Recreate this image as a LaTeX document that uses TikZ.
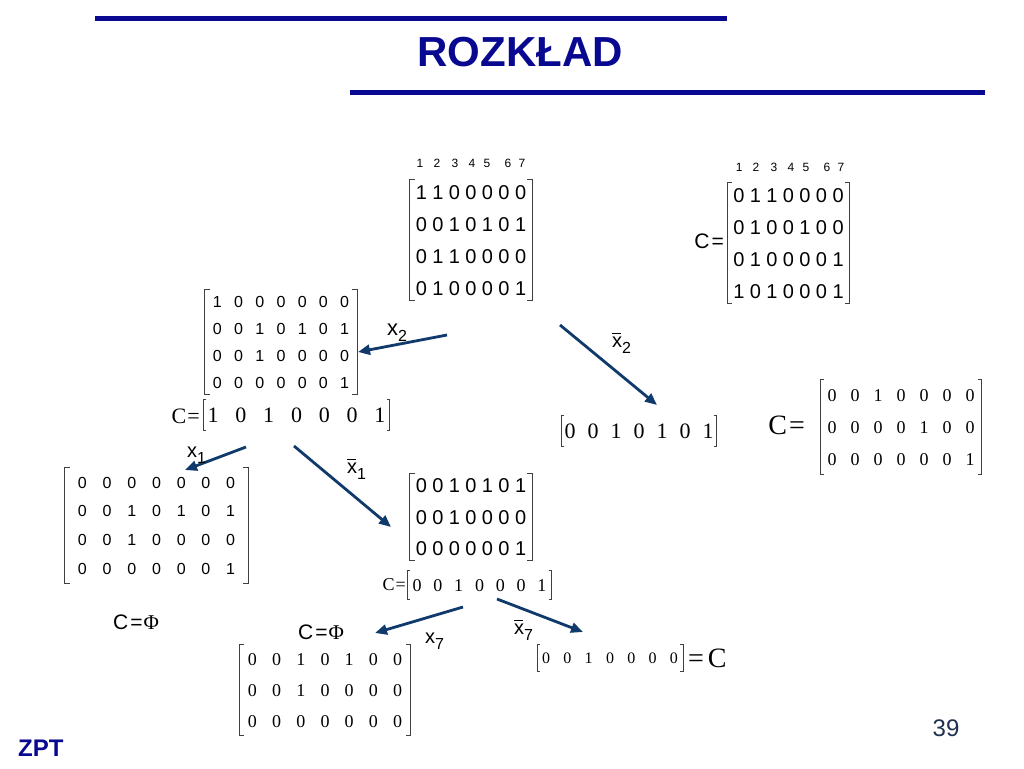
\documentclass[tikz,border=0pt]{standalone}
\usepackage{fontspec}
\setmainfont{Liberation Serif}
\setsansfont{Liberation Sans}
\newfontfamily\arial{Liberation Sans}
\newfontfamily\tms{Liberation Serif}
\usetikzlibrary{matrix,arrows.meta}
\newcommand\fs[1]{\fontsize{#1}{#1}\selectfont}
\newcommand\hdr{1\hspace{10.3pt}2\hspace{11.3pt}3\hspace{10.3pt}4\hspace{8.3pt}5\hspace{14.3pt}6\hspace{7.3pt}7}
\newcommand\xsub[1]{x\raisebox{-6pt}{\fs{16}#1}}
\newcommand\xbarsub[1]{\rlap{\raisebox{13pt}{\rule{9pt}{1pt}}}x\raisebox{-6pt}{\fs{16}#1}}
\newcommand\mybrk[2][5pt]{%
  \draw[brkline] ([xshift=#1]#2.north west) -- (#2.north west) -- (#2.south west) -- ([xshift=#1]#2.south west);
  \draw[brkline] ([xshift=-#1]#2.north east) -- (#2.north east) -- (#2.south east) -- ([xshift=-#1]#2.south east);}
\definecolor{titleblue}{RGB}{8,8,145}
\definecolor{arrowblue}{RGB}{16,58,108}
\definecolor{numgray}{RGB}{30,50,80}
\begin{document}
\begin{tikzpicture}[x=1pt,y=-1pt,
  brkline/.style={line width=0.8pt, black!75},
  mat/.style={matrix of nodes, nodes={inner sep=0pt, text depth=0pt, anchor=base}},
  sansbig/.style={nodes={font=\arial\fs{20}, text height=14pt}},
  sansmid/.style={nodes={font=\arial\fs{16}, text height=11.5pt}},
  tmsbig/.style={nodes={font=\tms\fs{22}, text height=15pt}},
  tmsmid/.style={nodes={font=\tms\fs{18}, text height=12.2pt}},
  tmssmall/.style={nodes={font=\tms\fs{16}, text height=10.8pt}},
  hdrnode/.style={font=\arial\fs{12}, inner sep=0pt},
  lbl/.style={font=\arial\fs{20}, inner sep=0pt, anchor=base west},
  conn/.style={arrowblue, line width=2.8pt, -{Triangle[length=12pt,width=10pt]}},
  ceq/.style={font=\arial\fs{21}, inner sep=0pt}]
\useasboundingbox (0,0) rectangle (1024,768);
\fill[white] (0,0) rectangle (1024,768);

% title and rules
\draw[titleblue, line width=5pt] (95,19) -- (727,19);
\draw[titleblue, line width=5pt] (350,92) -- (985,92);
\node[font=\arial\bfseries\fs{42}, text=titleblue, inner sep=0pt] (title) at (520,52) {ROZKŁAD};
\node[font=\arial\bfseries\fs{24}, text=titleblue, inner sep=0pt, anchor=west] (zpt) at (18,748) {ZPT};
\node[font=\arial\fs{24}, text=numgray, inner sep=0pt] (pnum) at (946,728) {39};

% top matrix
\node[hdrnode] (hA) at (471,163) {\hdr};
\matrix (A) [mat, sansbig, column sep=5.4pt, row sep=18pt, inner xsep=6pt, inner ysep=5pt] at (471,240) {
1 & 1 & 0 & 0 & 0 & 0 & 0 \\
0 & 0 & 1 & 0 & 1 & 0 & 1 \\
0 & 1 & 1 & 0 & 0 & 0 & 0 \\
0 & 1 & 0 & 0 & 0 & 0 & 1 \\
};
\mybrk{A}

% top right C matrix
\node[hdrnode] (hC) at (790,167) {\hdr};
\matrix (CA) [mat, sansbig, column sep=5.4pt, row sep=18pt, inner xsep=6pt, inner ysep=5pt] at (788.5,243) {
0 & 1 & 1 & 0 & 0 & 0 & 0 \\
0 & 1 & 0 & 0 & 1 & 0 & 0 \\
0 & 1 & 0 & 0 & 0 & 0 & 1 \\
1 & 0 & 1 & 0 & 0 & 0 & 1 \\
};
\mybrk{CA}
\node[ceq, anchor=east] (CAeq) at (724,241) {C\hspace{2pt}=};

% matrix B (after x2)
\matrix (B) [mat, sansmid, column sep=12.3pt, row sep=15.5pt, inner xsep=8pt, inner ysep=6pt] at (281,342) {
1 & 0 & 0 & 0 & 0 & 0 & 0 \\
0 & 0 & 1 & 0 & 1 & 0 & 1 \\
0 & 0 & 1 & 0 & 0 & 0 & 0 \\
0 & 0 & 0 & 0 & 0 & 0 & 1 \\
};
\mybrk{B}
\matrix (VB) [mat, tmsbig, column sep=16.8pt, inner xsep=4pt, inner ysep=7.5pt] at (296.5,415) {
1 & 0 & 1 & 0 & 0 & 0 & 1 \\
};
\mybrk[3pt]{VB}
\node[font=\tms\fs{22}, inner sep=0pt, anchor=east] (VBeq) at (200,416) {C\hspace{1pt}=};

% vector after x2 bar
\matrix (V2) [mat, tmsbig, column sep=12pt, inner xsep=3pt, inner ysep=7.5pt] at (639,431) {
0 & 0 & 1 & 0 & 1 & 0 & 1 \\
};
\mybrk[3pt]{V2}

% big C matrix on right
\matrix (CM) [mat, tmsmid, column sep=14pt, row sep=19.8pt, inner xsep=7pt, inner ysep=9.5pt] at (901,427) {
0 & 0 & 1 & 0 & 0 & 0 & 0 \\
0 & 0 & 0 & 0 & 1 & 0 & 0 \\
0 & 0 & 0 & 0 & 0 & 0 & 1 \\
};
\mybrk[4pt]{CM}
\node[font=\tms\fs{28}, inner sep=0pt, anchor=east] (CMeq) at (805,425) {C\hspace{2pt}=};

% matrix D (after x1)
\matrix (D) [mat, sansmid, column sep=15.8pt, row sep=17.2pt, inner xsep=13pt, inner ysep=8.7pt] at (156.5,525.5) {
0 & 0 & 0 & 0 & 0 & 0 & 0 \\
0 & 0 & 1 & 0 & 1 & 0 & 1 \\
0 & 0 & 1 & 0 & 0 & 0 & 0 \\
0 & 0 & 0 & 0 & 0 & 0 & 1 \\
};
\mybrk{D}
\node[ceq] (Dphi) at (136,622) {C\hspace{2pt}=\hspace{1pt}{\tms Φ}};

% matrix E (after x1 bar)
\matrix (E) [mat, sansbig, column sep=5.4pt, row sep=17.5pt, inner xsep=6pt, inner ysep=5pt] at (471,517) {
0 & 0 & 1 & 0 & 1 & 0 & 1 \\
0 & 0 & 1 & 0 & 0 & 0 & 0 \\
0 & 0 & 0 & 0 & 0 & 0 & 1 \\
};
\mybrk{E}
\matrix (VE) [mat, tmsmid, column sep=11.8pt, inner xsep=5pt, inner ysep=8pt] at (479.5,585) {
0 & 0 & 1 & 0 & 0 & 0 & 1 \\
};
\mybrk[3pt]{VE}
\node[font=\tms\fs{18}, inner sep=0pt, anchor=east] (VEeq) at (406,585) {C\hspace{1pt}=};

% matrix F (after x7)
\node[ceq] (Fphi) at (321,632) {C\hspace{2pt}=\hspace{1pt}{\tms Φ}};
\matrix (F) [mat, tmsmid, column sep=15.2pt, row sep=18.8pt, inner xsep=8pt, inner ysep=8pt] at (325,690) {
0 & 0 & 1 & 0 & 1 & 0 & 0 \\
0 & 0 & 1 & 0 & 0 & 0 & 0 \\
0 & 0 & 0 & 0 & 0 & 0 & 0 \\
};
\mybrk[4pt]{F}

% vector after x7 bar
\matrix (V7) [mat, tmssmall, column sep=13.3pt, inner xsep=5pt, inner ysep=8pt] at (610,658) {
0 & 0 & 1 & 0 & 0 & 0 & 0 \\
};
\mybrk[3pt]{V7}
\node[font=\tms\fs{28}, inner sep=0pt, anchor=west] (V7eq) at (688,658) {=\hspace{4pt}C};

% connectors
\coordinate (a1s) at (447,335); \coordinate (a1e) at (358,352);
\coordinate (a2s) at (560,325); \coordinate (a2e) at (657,405);
\coordinate (a3s) at (246,447); \coordinate (a3e) at (185,470);
\coordinate (a4s) at (294,446); \coordinate (a4e) at (391,527);
\coordinate (a5s) at (463,607); \coordinate (a5e) at (375,633);
\coordinate (a6s) at (497,599); \coordinate (a6e) at (583,632);
\draw[conn] (a1s) -- (a1e);
\draw[conn] (a2s) -- (a2e);
\draw[conn] (a3s) -- (a3e);
\draw[conn] (a4s) -- (a4e);
\draw[conn] (a5s) -- (a5e);
\draw[conn] (a6s) -- (a6e);

% labels
\node[lbl, font=\arial\fs{22}] (l1) at (387,335) {\xsub{2}};
\node[lbl] (l2) at (612,347) {\xbarsub{2}};
\node[lbl] (l3) at (187,457) {\xsub{1}};
\node[lbl] (l4) at (347,473) {\xbarsub{1}};
\node[lbl] (l5) at (425,643) {\xsub{7}};
\node[lbl] (l6) at (514,634) {\xbarsub{7}};
\end{tikzpicture}
\end{document}
